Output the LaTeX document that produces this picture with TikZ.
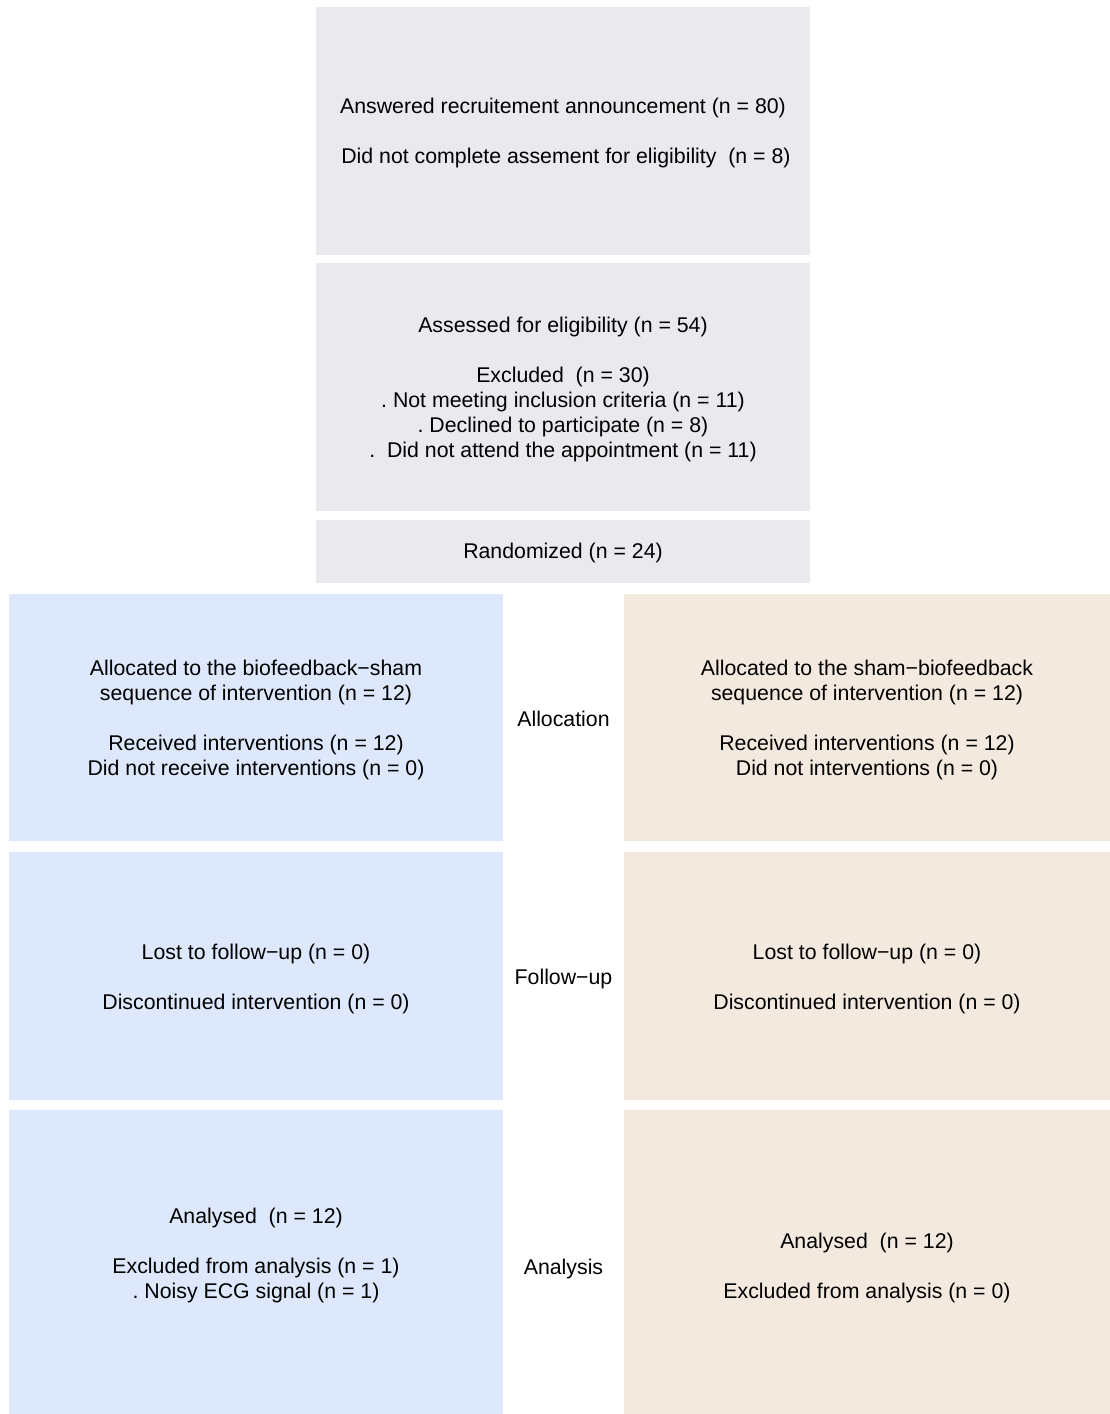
\documentclass[tikz,border=0pt]{standalone}
\usepackage{fontspec}
\setmainfont{Liberation Sans}
\frenchspacing
\usetikzlibrary{calc}
\definecolor{gbox}{HTML}{EAE9EE}
\definecolor{bbox}{HTML}{DDE8FC}
\definecolor{obox}{HTML}{F4E9DF}
\tikzset{
  box/.style={rectangle, draw=none, inner sep=0pt},
  txt/.style={inner sep=0pt, align=center, font=\fontsize{21.3}{25}\selectfont},
  gray box/.style={box, fill=gbox, minimum width=494pt},
  left box/.style={box, fill=bbox, minimum width=494pt},
  right box/.style={box, fill=obox, minimum width=486pt},
}
\begin{document}
\begin{tikzpicture}[x=1pt,y=-1pt]
\useasboundingbox[fill=white] (0,0) rectangle (1110,1414);
\node[gray box, minimum height=248pt] (b1) at (563,131) {};
\node[gray box, minimum height=248pt] (b2) at (563,387) {};
\node[gray box, minimum height=63pt] (b3) at (563,551.5) {};
\node[left box, minimum height=247pt] (L1) at (256,717.5) {};
\node[right box, minimum height=247pt] (R1) at (867,717.5) {};
\node[left box, minimum height=248pt] (L2) at (256,976) {};
\node[right box, minimum height=248pt] (R2) at (867,976) {};
\node[left box, minimum height=304pt] (L3) at (256,1262) {};
\node[right box, minimum height=304pt] (R3) at (867,1262) {};

\node[txt] (b1t) at ([yshift=-2pt]b1.center)
  {Answered recruitement announcement (n = 80)\\[25pt]
   \ Did not complete assement for eligibility\ \ (n = 8)};
\node[txt] (b2t) at ([yshift=-2.5pt]b2.center)
  {Assessed for eligibility (n = 54)\\[25pt]
   Excluded\ \ (n = 30)\\
   . Not meeting inclusion criteria (n = 11)\\
   . Declined to participate (n = 8)\\
   .\ \ Did not attend the appointment (n = 11)};
\node[txt] (b3t) at ([yshift=-1.5pt]b3.center) {Randomized (n = 24)};

\node[txt] (L1t) at ([yshift=-2pt]L1.center)
  {Allocated to the biofeedback−sham\\
   sequence of intervention (n = 12)\\[25pt]
   Received interventions (n = 12)\\
   Did not receive interventions (n = 0)};
\node[txt] (R1t) at ([yshift=-2pt]R1.center)
  {Allocated to the sham−biofeedback\\
   sequence of intervention (n = 12)\\[25pt]
   Received interventions (n = 12)\\
   Did not interventions (n = 0)};

\node[txt] (L2t) at ([yshift=-2.5pt]L2.center)
  {Lost to follow−up (n = 0)\\[25pt]
   Discontinued intervention (n = 0)};
\node[txt] (R2t) at ([yshift=-2.5pt]R2.center)
  {Lost to follow−up (n = 0)\\[25pt]
   Discontinued intervention (n = 0)};

\node[txt] (L3t) at ([yshift=6.5pt]L3.center)
  {Analysed\ \ (n = 12)\\[25pt]
   Excluded from analysis (n = 1)\\
   . Noisy ECG signal (n = 1)};
\node[txt] (R3t) at ([yshift=-6pt]R3.center)
  {Analysed\ \ (n = 12)\\[25pt]
   Excluded from analysis (n = 0)};

\node[txt] (p1) at ([yshift=-1pt]$(L1.east)!0.5!(R1.west)$) {Allocation};
\node[txt] (p2) at ([yshift=-2.5pt]$(L2.east)!0.5!(R2.west)$) {Follow−up};
\node[txt] (p3) at ([yshift=-6.5pt]$(L3.east)!0.5!(R3.west)$) {Analysis};
\end{tikzpicture}
\end{document}
